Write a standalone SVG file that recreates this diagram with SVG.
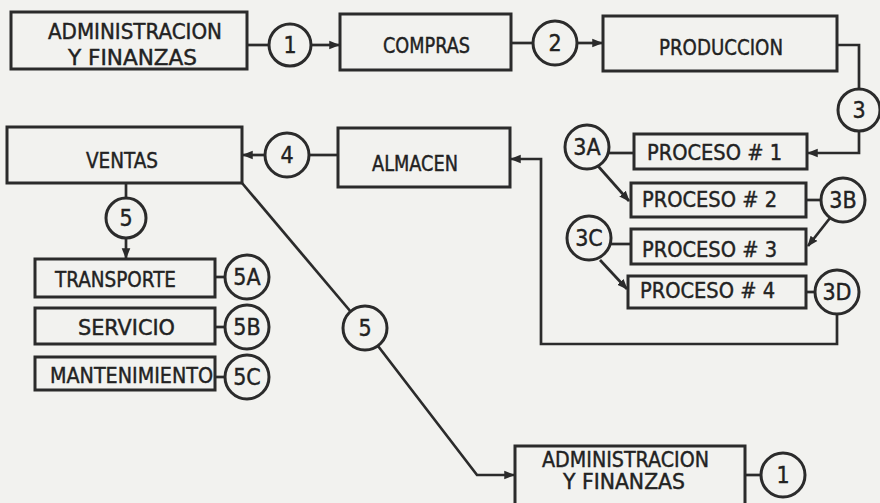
<svg xmlns="http://www.w3.org/2000/svg" width="880" height="503" viewBox="0 0 880 503">
<defs>
<style>
.bg{fill:#f2f2ef}
.box{fill:none;stroke:#2b2b2b;stroke-width:3}
.cir{fill:#f2f2ef;stroke:#2b2b2b;stroke-width:3}
.t{font-family:"Liberation Sans Narrow","DejaVu Sans Condensed","Liberation Sans",sans-serif;font-size:21px;fill:#222;stroke:#222;stroke-width:0.4}
.n{font-family:"Liberation Sans Narrow","DejaVu Sans Condensed","Liberation Sans",sans-serif;font-size:23px;fill:#222;stroke:#222;stroke-width:0.4;text-anchor:middle}
.c{fill:none;stroke:#2b2b2b;stroke-width:2.7}
</style>
<marker id="ah" viewBox="0 0 10 10" refX="9" refY="5" markerWidth="4" markerHeight="4" orient="auto" markerUnits="strokeWidth">
<path d="M0,1 L10,5 L0,9 z" fill="#2b2b2b"/>
</marker>
</defs>
<rect class="bg" x="0" y="0" width="880" height="503"/>
<g id="connectors">
<path class="c" d="M247,45 H269"/>
<path class="c" d="M311,45 H339" marker-end="url(#ah)"/>
<path class="c" d="M511,43 H533"/>
<path class="c" d="M577,43 H602" marker-end="url(#ah)"/>
<path class="c" d="M837,45 H859 V89"/>
<path class="c" d="M859,131 V153 H808" marker-end="url(#ah)"/>
<path class="c" d="M609,153 H634"/>
<path class="c" d="M598,166 L629,201" marker-end="url(#ah)"/>
<path class="c" d="M806,200 H821"/>
<path class="c" d="M830,218 L808,246" marker-end="url(#ah)"/>
<path class="c" d="M611,244 H631"/>
<path class="c" d="M600,260 L627,289" marker-end="url(#ah)"/>
<path class="c" d="M806,292 H815"/>
<path class="c" d="M837,314 V344 H541 V159 H511" marker-end="url(#ah)"/>
<path class="c" d="M338,155 H309"/>
<path class="c" d="M265,155 H243" marker-end="url(#ah)"/>
<path class="c" d="M126,183 V198"/>
<path class="c" d="M126,238 V258" marker-end="url(#ah)"/>
<path class="c" d="M242,183 L351,312"/>
<path class="c" d="M378,346 L477,475 H514" marker-end="url(#ah)"/>
<path class="c" d="M215,277 H225"/>
<path class="c" d="M215,327 H225"/>
<path class="c" d="M215,377 H225"/>
<path class="c" d="M745,475 H761"/>
</g>
<g id="admin1"><rect class="box" x="11" y="12" width="236" height="57"/>
<text class="t" x="48" y="39" textLength="174" lengthAdjust="spacingAndGlyphs">ADMINISTRACION</text>
<text class="t" x="68" y="65" textLength="129" lengthAdjust="spacingAndGlyphs">Y FINANZAS</text></g>
<g id="c1"><circle class="cir" cx="290" cy="45" r="21"/><text class="n" x="290" y="53">1</text></g>
<g id="compras"><rect class="box" x="340" y="14" width="171" height="56"/>
<text class="t" x="383" y="53" textLength="87" lengthAdjust="spacingAndGlyphs">COMPRAS</text></g>
<g id="c2"><circle class="cir" cx="555" cy="43" r="22"/><text class="n" x="555" y="51">2</text></g>
<g id="produccion"><rect class="box" x="603" y="16" width="234" height="55"/>
<text class="t" x="659" y="55" textLength="124" lengthAdjust="spacingAndGlyphs">PRODUCCION</text></g>
<g id="c3"><circle class="cir" cx="859" cy="110" r="21"/><text class="n" x="859" y="118">3</text></g>
<g id="p1"><rect class="box" x="634" y="134" width="173" height="35"/>
<text class="t" x="647" y="160" textLength="135" lengthAdjust="spacingAndGlyphs">PROCESO # 1</text></g>
<g id="c3a"><circle class="cir" cx="587" cy="147" r="22"/><text class="n" x="587" y="155">3A</text></g>
<g id="p2"><rect class="box" x="631" y="183" width="175" height="34"/>
<text class="t" x="642" y="207" textLength="135" lengthAdjust="spacingAndGlyphs">PROCESO # 2</text></g>
<g id="c3b"><circle class="cir" cx="843" cy="200" r="22"/><text class="n" x="843" y="208">3B</text></g>
<g id="p3"><rect class="box" x="631" y="229" width="175" height="35"/>
<text class="t" x="642" y="257" textLength="135" lengthAdjust="spacingAndGlyphs">PROCESO # 3</text></g>
<g id="c3c"><circle class="cir" cx="589" cy="238" r="22"/><text class="n" x="589" y="246">3C</text></g>
<g id="p4"><rect class="box" x="628" y="276" width="178" height="32"/>
<text class="t" x="640" y="298" textLength="135" lengthAdjust="spacingAndGlyphs">PROCESO # 4</text></g>
<g id="c3d"><circle class="cir" cx="837" cy="292" r="22"/><text class="n" x="837" y="300">3D</text></g>
<g id="almacen"><rect class="box" x="338" y="128" width="172" height="59"/>
<text class="t" x="372" y="171" textLength="86" lengthAdjust="spacingAndGlyphs">ALMACEN</text></g>
<g id="c4"><circle class="cir" cx="287" cy="155" r="22"/><text class="n" x="287" y="163">4</text></g>
<g id="ventas"><rect class="box" x="7" y="127" width="235" height="56"/>
<text class="t" x="86" y="168" textLength="72" lengthAdjust="spacingAndGlyphs">VENTAS</text></g>
<g id="c5a"><circle class="cir" cx="126" cy="218" r="20"/><text class="n" x="126" y="226">5</text></g>
<g id="transporte"><rect class="box" x="35" y="259" width="180" height="38"/>
<text class="t" x="55" y="287" textLength="121" lengthAdjust="spacingAndGlyphs">TRANSPORTE</text></g>
<g id="c5A"><circle class="cir" cx="247" cy="277" r="22"/><text class="n" x="247" y="285">5A</text></g>
<g id="servicio"><rect class="box" x="35" y="308" width="180" height="36"/>
<text class="t" x="78" y="335" textLength="97" lengthAdjust="spacingAndGlyphs">SERVICIO</text></g>
<g id="c5B"><circle class="cir" cx="247" cy="327" r="22"/><text class="n" x="247" y="335">5B</text></g>
<g id="mantenimiento"><rect class="box" x="35" y="357" width="180" height="33"/>
<text class="t" x="50" y="383" textLength="163" lengthAdjust="spacingAndGlyphs">MANTENIMIENTO</text></g>
<g id="c5C"><circle class="cir" cx="247" cy="377" r="22"/><text class="n" x="247" y="385">5C</text></g>
<g id="c5b"><circle class="cir" cx="365" cy="328" r="22"/><text class="n" x="365" y="336">5</text></g>
<g id="admin2"><rect class="box" x="515" y="446" width="230" height="60"/>
<text class="t" x="542" y="467" textLength="167" lengthAdjust="spacingAndGlyphs">ADMINISTRACION</text>
<text class="t" x="563" y="489" textLength="122" lengthAdjust="spacingAndGlyphs">Y FINANZAS</text></g>
<g id="c1b"><circle class="cir" cx="783" cy="475" r="22"/><text class="n" x="783" y="483">1</text></g>
</svg>
